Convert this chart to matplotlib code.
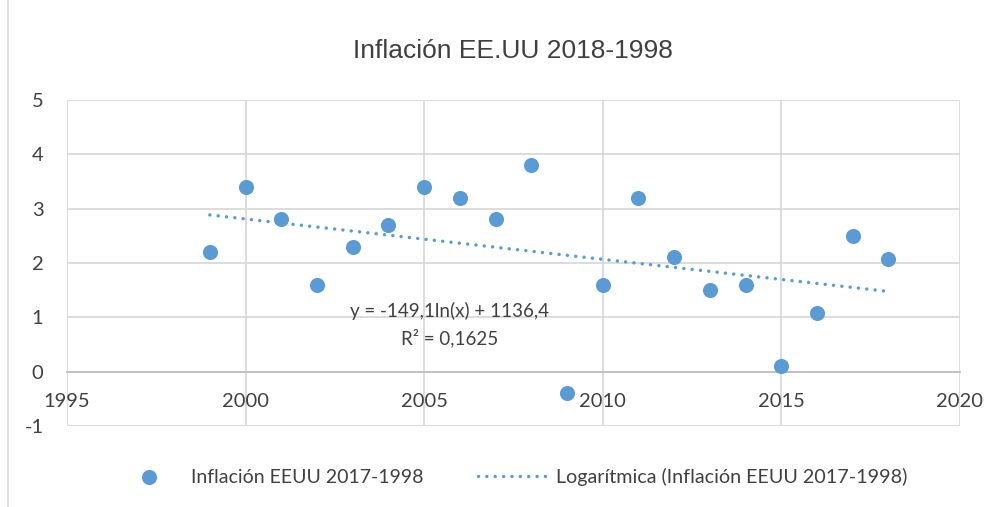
import numpy as np
import matplotlib.pyplot as plt
from matplotlib.patches import Rectangle

# Inflation data
years = [1999, 2000, 2001, 2002, 2003, 2004, 2005, 2006, 2007, 2008,
         2009, 2010, 2011, 2012, 2013, 2014, 2015, 2016, 2017, 2018]
inflation = [2.2, 3.4, 2.8, 1.6, 2.3, 2.7, 3.4, 3.2, 2.8, 3.8,
             -0.4, 1.6, 3.2, 2.1, 1.5, 1.6, 0.1, 1.07, 2.5, 2.07]
x_ticks = [1995, 2000, 2005, 2010, 2015, 2020]
y_ticks = [-1, 0, 1, 2, 3, 4, 5]

title = 'Inflación EE.UU 2018-1998'
series_label = 'Inflación EEUU 2017-1998'
trend_label = 'Logarítmica (Inflación EEUU 2017-1998)'
eq_text = 'y = -149,1ln(x) + 1136,4\nR² = 0,1625'

blue = '#5B9BD5'
grid = '#D9D9D9'
txt = '#404040'

plt.rcParams['font.family'] = ['Lato', 'DejaVu Sans']
plt.rcParams['axes.unicode_minus'] = False

fig = plt.figure(figsize=(9.91, 5.07), dpi=100)
fig.patches.append(Rectangle((0.008, -0.01), 1.0, 1.02, transform=fig.transFigure,
                             fill=False, edgecolor=grid, linewidth=1.2))
ax = fig.add_axes([0.0676, 0.160, 0.901, 0.643])

# logarithmic trend fitted to the data
x = np.array(years, dtype=float)
y = np.array(inflation)
b, a = np.polyfit(np.log(x), y, 1)
xs = np.linspace(x.min(), x.max(), 200)

sc = ax.scatter(years, inflation, s=118, color=blue, zorder=3, linewidths=0)
ln, = ax.plot(xs, a + b * np.log(xs), linestyle=(0, (0.01, 2.4)), dash_capstyle='round',
              color=blue, linewidth=2.5, zorder=2)

ax.text(2005.7, 0.87, eq_text, ha='center', va='center', fontsize=13.5, color=txt,
        linespacing=1.55)

ax.set_xlim(1995, 2020)
ax.set_ylim(-1, 5)
ax.set_xticks(x_ticks)
ax.set_yticks(y_ticks)
ax.grid(True, color=grid, linewidth=1.3)
ax.set_axisbelow(True)
for side in ['top', 'right', 'left']:
    ax.spines[side].set_visible(False)
ax.spines['bottom'].set_position(('data', 0))
ax.spines['bottom'].set_color('#BFBFBF')
ax.spines['bottom'].set_linewidth(1.3)
ax.tick_params(axis='both', length=0, labelsize=14.5, colors=txt)
ax.tick_params(axis='x', pad=15.5)
ax.tick_params(axis='y', pad=17)
ax.set_title(title, fontsize=19, color='#404040', pad=30,
             family=['Liberation Sans', 'DejaVu Sans'])

# two legend entries, placed separately like the spreadsheet legend
fig.legend([sc], [series_label], loc='center left', bbox_to_anchor=(0.1307, 0.059),
           frameon=False, fontsize=14, labelcolor=txt, handlelength=2.0,
           handletextpad=1.16, borderpad=0, borderaxespad=0)
fig.legend([ln], [trend_label], loc='center left', bbox_to_anchor=(0.482, 0.059),
           frameon=False, fontsize=14.2, labelcolor=txt, handlelength=3.6,
           handletextpad=0.36, borderpad=0, borderaxespad=0)

fig.savefig('out.png', dpi=100)
